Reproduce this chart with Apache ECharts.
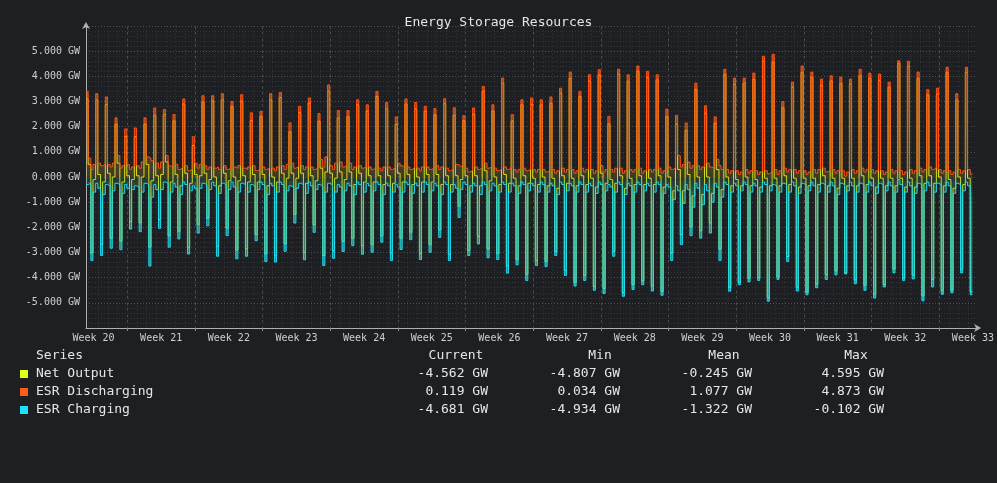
<!doctype html>
<html lang="en">
<head>
<meta charset="UTF-8">
<title>Energy Storage Resources</title>
<style>
  html, body { margin: 0; padding: 0; background: #1e1f22; }
  #main { width: 997px; height: 483px; }
</style>
</head>
<body>
<div id="main"></div>
<script src="https://cdn.jsdelivr.net/npm/echarts@6/dist/echarts.min.js"></script>
<script type="text/javascript">
// 4 readings per day: [evening peak, night, midday, afternoon]
// slotOffsets = start of each reading within the day (days); t0 = first reading (days since start of week 20)
const t0 = 2.72;
const slotOffsets = [0, 0.22, 0.5, 0.72];
const slotLen = 0.22;

const discharge = [
  3.40,0.75,0.30,0.50, 3.31,0.55,0.45,0.50, 3.18,0.50,0.40,0.55, 2.35,0.85,0.35,0.45,
  1.91,0.50,0.30,0.40, 1.95,0.45,0.35,0.60, 2.35,0.80,0.75,0.65, 2.74,0.55,0.35,0.60,
  2.68,0.85,0.45,0.40, 2.48,0.50,0.30,0.35, 3.10,0.45,0.25,0.30, 1.60,0.55,0.35,0.50,
  3.23,0.45,0.30,0.40, 3.23,0.35,0.40,0.30, 3.31,0.45,0.30,0.35, 3.00,0.40,0.35,0.45,
  3.27,0.35,0.30,0.40, 2.55,0.45,0.25,0.30, 2.61,0.40,0.30,0.35, 3.31,0.35,0.25,0.40,
  3.36,0.45,0.30,0.50, 2.15,0.55,0.35,0.40, 2.81,0.45,0.30,0.40, 3.14,0.40,0.30,0.35,
  2.52,0.70,0.40,0.80, 3.66,0.45,0.30,0.55, 2.64,0.60,0.40,0.45, 2.64,0.55,0.30,0.40,
  3.07,0.45,0.35,0.40, 2.87,0.40,0.30,0.35, 3.40,0.35,0.25,0.40, 2.96,0.40,0.30,0.35,
  2.39,0.55,0.45,0.40, 3.10,0.40,0.30,0.35, 2.96,0.35,0.25,0.40, 2.81,0.40,0.30,0.35,
  2.72,0.45,0.30,0.40, 3.11,0.35,0.25,0.30, 2.75,0.50,0.45,0.40, 2.44,0.35,0.20,0.25,
  2.74,0.40,0.30,0.35, 3.60,0.55,0.35,0.40, 2.87,0.35,0.25,0.30, 3.93,0.40,0.30,0.35,
  2.48,0.30,0.20,0.30, 3.07,0.35,0.25,0.30, 3.14,0.30,0.20,0.30, 3.07,0.30,0.20,0.25,
  3.18,0.30,0.15,0.25, 3.53,0.35,0.20,0.30, 4.17,0.30,0.15,0.25, 3.40,0.35,0.20,0.30,
  4.06,0.30,0.15,0.25, 4.26,0.45,0.20,0.30, 2.41,0.30,0.20,0.35, 4.28,0.35,0.15,0.25,
  4.06,0.30,0.20,0.30, 4.41,0.35,0.15,0.25, 4.20,0.30,0.20,0.30, 4.06,0.35,0.15,0.25,
  2.70,0.40,0.30,0.35, 2.45,0.85,0.40,0.50, 2.15,0.60,0.35,0.45, 3.73,0.45,0.30,0.40,
  2.83,0.55,0.40,0.35, 2.39,0.70,0.45,0.30, 4.28,0.30,0.15,0.25, 3.93,0.25,0.10,0.20,
  3.93,0.30,0.15,0.25, 4.13,0.25,0.10,0.20, 4.80,0.25,0.127,0.20, 4.873,0.30,0.10,0.25,
  3.00,0.35,0.20,0.30, 3.77,0.30,0.15,0.25, 4.41,0.25,0.10,0.20, 4.17,0.30,0.15,0.30,
  3.89,0.35,0.20,0.25, 4.02,0.30,0.15,0.25, 3.97,0.25,0.034,0.20, 3.89,0.30,0.15,0.25,
  4.28,0.35,0.20,0.30, 4.13,0.30,0.15,0.25, 4.09,0.25,0.10,0.20, 3.77,0.30,0.15,0.25,
  4.62,0.25,0.10,0.20, 4.60,0.30,0.15,0.25, 4.17,0.35,0.20,0.30, 3.47,0.40,0.30,0.35,
  3.53,0.30,0.15,0.25, 4.36,0.25,0.10,0.20, 3.31,0.30,0.15,0.25, 4.36,0.30,0.119
];

const charging = [
  -0.30,-0.25,-3.32,-0.60, -0.25,-0.45,-3.12,-0.70, -0.30,-0.35,-2.83,-0.55, -0.25,-0.30,-2.89,-0.65,
  -0.30,-0.45,-2.07,-0.50, -0.35,-0.40,-2.17,-0.60, -0.25,-0.30,-3.54,-0.80, -0.30,-0.50,-2.04,-0.50,
  -0.20,-0.25,-2.79,-0.60, -0.25,-0.40,-2.46,-0.70, -0.20,-0.30,-3.06,-0.55, -0.35,-0.45,-2.23,-0.45,
  -0.25,-0.30,-1.94,-0.50, -0.20,-0.35,-3.15,-0.65, -0.25,-0.30,-2.33,-0.50, -0.20,-0.40,-3.25,-0.60,
  -0.25,-0.30,-3.15,-0.60, -0.30,-0.35,-2.53,-0.50, -0.20,-0.30,-3.36,-0.70, -0.25,-0.35,-3.38,-0.60,
  -0.20,-0.30,-2.95,-0.55, -0.35,-0.40,-1.83,-0.45, -0.25,-0.30,-3.29,-0.65, -0.20,-0.35,-2.20,-0.50,
  -0.30,-0.35,-3.52,-0.60, -0.25,-0.30,-3.23,-0.60, -0.30,-0.40,-2.96,-0.55, -0.25,-0.35,-2.73,-0.70,
  -0.20,-0.30,-3.07,-0.60, -0.25,-0.35,-2.99,-0.55, -0.20,-0.30,-2.59,-0.70, -0.25,-0.35,-3.32,-0.60,
  -0.30,-0.40,-2.88,-0.60, -0.20,-0.30,-2.49,-0.65, -0.25,-0.35,-3.28,-0.60, -0.20,-0.30,-2.99,-0.55,
  -0.25,-0.35,-2.40,-0.70, -0.20,-0.30,-3.32,-0.60, -0.30,-0.45,-1.61,-0.50, -0.20,-0.30,-3.12,-0.60,
  -0.25,-0.35,-2.66,-0.70, -0.20,-0.30,-3.21,-0.55, -0.25,-0.35,-3.28,-0.60, -0.20,-0.30,-3.82,-0.60,
  -0.25,-0.35,-3.49,-0.65, -0.20,-0.30,-4.11,-0.55, -0.25,-0.35,-3.52,-0.60, -0.20,-0.30,-3.56,-0.60,
  -0.25,-0.35,-3.12,-0.70, -0.20,-0.30,-3.91,-0.55, -0.25,-0.35,-4.33,-0.60, -0.20,-0.30,-4.11,-0.60,
  -0.25,-0.35,-4.50,-0.65, -0.20,-0.30,-4.63,-0.55, -0.30,-0.40,-3.15,-0.60, -0.20,-0.30,-4.74,-0.70,
  -0.25,-0.35,-4.47,-0.60, -0.20,-0.30,-4.28,-0.55, -0.25,-0.35,-4.53,-0.60, -0.20,-0.30,-4.70,-0.65,
  -0.30,-0.40,-3.32,-0.90, -0.35,-0.55,-2.69,-1.05, -0.30,-0.50,-2.33,-1.20, -0.25,-0.45,-2.43,-1.10,
  -0.30,-0.55,-2.23,-1.00, -0.25,-0.40,-3.32,-0.80, -0.20,-0.30,-4.54,-0.60, -0.25,-0.35,-4.28,-0.55,
  -0.20,-0.30,-4.17,-0.60, -0.25,-0.35,-4.11,-0.60, -0.20,-0.30,-4.934,-0.55, -0.30,-0.35,-4.07,-0.60,
  -0.25,-0.30,-3.36,-0.60, -0.20,-0.35,-4.53,-0.65, -0.25,-0.30,-4.68,-0.55, -0.20,-0.35,-4.40,-0.60,
  -0.25,-0.30,-4.07,-0.60, -0.20,-0.35,-3.89,-0.70, -0.25,-0.30,-3.85,-0.55, -0.20,-0.35,-4.24,-0.60,
  -0.25,-0.30,-4.50,-0.60, -0.20,-0.35,-4.81,-0.65, -0.25,-0.30,-4.37,-0.55, -0.20,-0.35,-3.81,-0.60,
  -0.102,-0.30,-4.11,-0.60, -0.20,-0.35,-4.05,-0.65, -0.25,-0.30,-4.92,-0.55, -0.20,-0.35,-4.37,-0.60,
  -0.25,-0.30,-4.66,-0.60, -0.20,-0.35,-4.60,-0.65, -0.25,-0.30,-3.81,-0.55, -0.20,-0.35,-4.681
];

// net output of the storage fleet is discharging + charging at each step
const netOutput = discharge.map((v, i) => +(v + charging[i]).toFixed(3));

const weekTicks = [7, 14, 21, 28, 35, 42, 49, 56, 63, 70, 77, 84, 91];
const weekLabelPos = [3.5, 10.5, 17.5, 24.5, 31.5, 38.5, 45.5, 52.5, 59.5, 66.5, 73.5, 80.5, 87.5, 94.5];
const weekLabels = ['Week 20', 'Week 21', 'Week 22', 'Week 23', 'Week 24', 'Week 25', 'Week 26',
                    'Week 27', 'Week 28', 'Week 29', 'Week 30', 'Week 31', 'Week 32', 'Week 33'];
const dayTicks = [];
for (let d = 3; d <= 94; d++) dayTicks.push(d);

const legendNames = ['Net Output', 'ESR Discharging', 'ESR Charging'];
const legendColors = ['#e2ff1c', '#ff5a1a', '#1ae4ff'];
const currentVals = ['-4.562 GW', '0.119 GW', '-4.681 GW'];
const minVals = ['-4.807 GW', '0.034 GW', '-4.934 GW'];
const meanVals = ['-0.245 GW', '1.077 GW', '-1.322 GW'];
const maxVals = ['4.595 GW', '4.873 GW', '-0.102 GW'];

const xMin = 2.72, xMax = 94.94;
const mono = 'DejaVu Sans Mono';

function slotTime(i) {
    return +(t0 + Math.floor(i / 4) + slotOffsets[i % 4]).toFixed(4);
}
function toPairs(vals) {
    const out = vals.map((v, i) => [slotTime(i), v]);
    const last = vals.length - 1;
    out.push([+(slotTime(last) + slotLen).toFixed(4), vals[last]]); // close the last step
    return out;
}

const myChart = echarts.init(document.getElementById('main'));

const graphic = [];
const rowY = [374, 392, 410];
const textFill = '#e6e6e6';
graphic.push({ type: 'text', x: 36, y: 356, style: { text: 'Series', fill: textFill, font: '13px ' + mono, verticalAlign: 'middle' } });
[['Current', 456], ['Min', 600], ['Mean', 724], ['Max', 856]].forEach(([h, x]) => {
    graphic.push({ type: 'text', x: x, y: 356, style: { text: h, fill: textFill, font: '13px ' + mono, align: 'center', verticalAlign: 'middle' } });
});
legendNames.forEach((name, i) => {
    const y = rowY[i];
    graphic.push({ type: 'rect', shape: { x: 20, y: y - 4, width: 8, height: 8 }, style: { fill: legendColors[i] } });
    graphic.push({ type: 'text', x: 36, y: y, style: { text: name, fill: textFill, font: '13px ' + mono, verticalAlign: 'middle' } });
    [[currentVals, 488], [minVals, 620], [meanVals, 752], [maxVals, 884]].forEach(([arr, x]) => {
        graphic.push({ type: 'text', x: x, y: y, style: { text: arr[i], fill: textFill, font: '13px ' + mono, align: 'right', verticalAlign: 'middle' } });
    });
});

const option = {
    backgroundColor: '#1e1f22',
    animation: false,
    title: {
        text: 'Energy Storage Resources',
        left: 'center',
        top: 11,
        textStyle: { color: '#e6e6e6', fontSize: 13, fontWeight: 'normal', fontFamily: mono }
    },
    grid: { left: 86, right: 14, top: 26, bottom: 155 },
    xAxis: [
        {
            type: 'value', min: xMin, max: xMax,
            axisLine: { onZero: false, lineStyle: { color: '#b0b0b0' }, symbol: ['none', 'arrow'], symbolSize: [6, 7], symbolOffset: [0, 4] },
            axisTick: { customValues: weekTicks, length: 3, lineStyle: { color: '#8a8a8a' } },
            axisLabel: {
                customValues: weekLabelPos, color: '#cfcfcf', fontSize: 10, fontFamily: mono, margin: 5,
                formatter: v => weekLabels[Math.floor(v / 7)]
            },
            splitLine: { show: true, lineStyle: { color: '#4c4d51', type: [3, 3], width: 1 } }
        },
        {
            type: 'value', min: xMin, max: xMax, position: 'bottom',
            axisLine: { show: false, onZero: false },
            axisTick: { show: false, customValues: dayTicks },
            axisLabel: { show: false },
            splitLine: { show: true, lineStyle: { color: '#36373b', type: [1, 3], width: 1 } }
        }
    ],
    yAxis: {
        type: 'value', min: -6, max: 6, interval: 1,
        axisLine: { show: true, onZero: false, lineStyle: { color: '#b0b0b0' }, symbol: ['none', 'arrow'], symbolSize: [6, 7], symbolOffset: [0, 4] },
        axisTick: { show: false },
        axisLabel: {
            color: '#cfcfcf', fontSize: 10, fontFamily: mono, margin: 6,
            formatter: v => Math.abs(v) >= 6 ? '' : v.toFixed(3) + ' GW'
        },
        splitLine: { show: true, lineStyle: { color: '#4e4f53', type: [1, 2], width: 1 } },
        minorTick: { show: false, splitNumber: 5 },
        minorSplitLine: { show: true, lineStyle: { color: '#323337', type: [1, 2], width: 1 } }
    },
    graphic: graphic,
    series: [
        {
            name: 'Net Output', type: 'line', step: 'end', showSymbol: false, z: 2,
            data: toPairs(netOutput),
            lineStyle: { color: '#e2f51c', width: 1 }
        },
        {
            name: 'ESR Discharging', type: 'line', step: 'end', showSymbol: false, z: 3,
            data: toPairs(discharge),
            lineStyle: { color: '#ff5014', width: 1 },
            areaStyle: {
                color: new echarts.graphic.LinearGradient(0, 0, 0, 1, [
                    { offset: 0, color: 'rgba(255,95,20,0.9)' },
                    { offset: 0.5, color: 'rgba(235,125,30,0.7)' },
                    { offset: 1, color: 'rgba(180,150,40,0.3)' }
                ])
            }
        },
        {
            name: 'ESR Charging', type: 'line', step: 'end', showSymbol: false, z: 4,
            data: toPairs(charging),
            lineStyle: { color: '#1ad8f0', width: 1 },
            areaStyle: {
                color: new echarts.graphic.LinearGradient(0, 0, 0, 1, [
                    { offset: 0, color: 'rgba(60,130,100,0.3)' },
                    { offset: 0.2, color: 'rgba(100,200,130,0.7)' },
                    { offset: 0.75, color: 'rgba(80,210,170,0.8)' },
                    { offset: 1, color: 'rgba(40,220,235,0.9)' }
                ])
            }
        }
    ]
};
myChart.setOption(option);
</script>
</body>
</html>
